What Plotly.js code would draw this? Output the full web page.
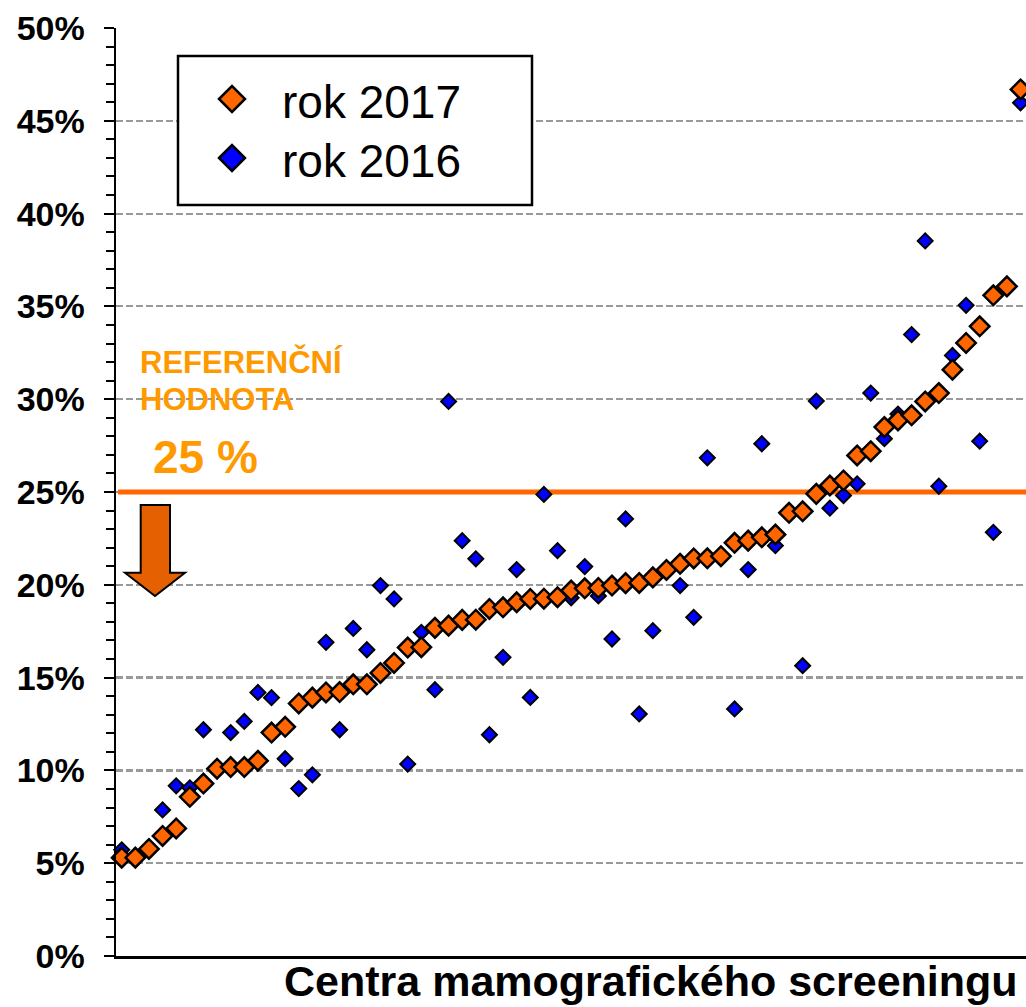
<!DOCTYPE html>
<html>
<head>
<meta charset="utf-8">
<script src="https://cdn.plot.ly/plotly-3.0.1.min.js"></script>
<style>html,body{margin:0;padding:0;background:#fff;}#chart{width:1026px;height:1007px;}</style>
</head>
<body>
<div id="chart"></div>
<script>
// Centres (sorted by 2017 value)
const centres = [1,2,3,4,5,6,7,8,9,10,11,12,13,14,15,16,17,18,19,20,21,22,23,24,25,26,27,28,29,30,31,32,33,34,35,36,37,38,39,40,41,42,43,44,45,46,47,48,49,50,51,52,53,54,55,56,57,58,59,60,61,62,63,64,65,66,67];
// rok 2017 (%)
const rok2017 = [5.30,5.30,5.77,6.47,6.87,8.58,9.29,10.09,10.18,10.18,10.52,12.04,12.35,13.61,13.92,14.20,14.22,14.64,14.64,15.25,15.79,16.62,16.64,17.68,17.80,18.11,18.12,18.70,18.79,19.06,19.24,19.25,19.33,19.69,19.81,19.83,19.96,20.09,20.10,20.40,20.80,21.13,21.42,21.43,21.54,22.26,22.38,22.56,22.71,23.88,23.96,24.90,25.35,25.62,26.97,27.20,28.50,28.86,29.13,29.88,30.33,31.59,33.03,33.93,35.60,36.08,46.69];
// rok 2016 (%)
const rok2016 = [5.72,5.30,5.75,7.87,9.17,9.06,12.19,10.00,12.04,12.64,14.20,13.92,10.63,9.02,9.76,16.90,12.19,17.65,16.50,19.96,19.24,10.34,17.44,14.35,29.88,22.38,21.40,11.92,16.09,20.82,13.93,24.87,21.84,19.30,20.98,19.40,17.08,23.55,13.04,17.53,20.70,19.96,18.25,26.84,21.50,13.31,20.82,27.60,22.11,23.80,15.64,29.90,24.13,24.81,25.44,30.33,27.87,29.20,33.48,38.53,25.31,32.36,35.06,27.74,22.83,36.00,45.97];
const referenceValue = 25;
const seriesNames = ['rok 2017', 'rok 2016'];
const yTicks = [0,5,10,15,20,25,30,35,40,45,50];
const yTickText = ['0%','5%','10%','15%','20%','25%','30%','35%','40%','45%','50%'];
const xTitle = 'Centra mamografického screeningu';
const xRange = [0.58, 67.4];

const FONT = 'Liberation Sans, Arial, sans-serif';
const L = 116, R = 1026, T = 28, B = 956;
const px = x => (x - L) / (R - L);
const py = y => (B - y) / (B - T);

const traces = [
  {x: [xRange[0] + 0.15, xRange[1]], y: [referenceValue, referenceValue], type: 'scatter', mode: 'lines',
   name: 'referenční hodnota', hoverinfo: 'skip', line: {color: '#ff6600', width: 5}},
  {x: centres, y: rok2016, type: 'scatter', mode: 'markers', name: seriesNames[1], cliponaxis: false,
   marker: {symbol: 'diamond', size: 11.5, color: '#0000ff', line: {color: '#000', width: 2}}},
  {x: centres, y: rok2017, type: 'scatter', mode: 'markers', name: seriesNames[0], cliponaxis: false,
   marker: {symbol: 'diamond', size: 15, color: '#ff6600', line: {color: '#000', width: 2.5}}}
];

function diamond(cx, cy, h) {
  return 'M' + px(cx - h) + ',' + py(cy) + ' L' + px(cx) + ',' + py(cy - h) + ' L' + px(cx + h) + ',' + py(cy) + ' L' + px(cx) + ',' + py(cy + h) + ' Z';
}
const arrowPts = [[140.7,505],[170,505],[170,572.7],[185,572.7],[155,596],[125,572.7],[140.7,572.7]];
const arrowPath = 'M' + arrowPts.map(p => px(p[0]) + ',' + py(p[1])).join(' L') + ' Z';

const layout = {
  width: 1026, height: 1007,
  margin: {l: L, r: 0, t: T, b: 1007 - B, pad: 0},
  paper_bgcolor: '#fff', plot_bgcolor: '#fff',
  showlegend: false,
  font: {family: FONT, color: '#000'},
  xaxis: {range: xRange, showline: true, linecolor: '#000', linewidth: 3, showgrid: false,
          zeroline: false, showticklabels: false, ticks: ''},
  yaxis: {range: [0, 50], tickmode: 'array', tickvals: yTicks, ticktext: yTickText, showline: true, linecolor: '#000', linewidth: 2.5,
          zeroline: false, ticks: 'outside', ticklen: 10, tickwidth: 2, tickcolor: '#000',
          tickfont: {family: FONT, size: 34, weight: 'bold', color: '#000'}, ticklabelstandoff: 12,
          showgrid: true, gridcolor: '#999999', gridwidth: 2.2, griddash: '7px,3px',
          minor: {dtick: 1, ticks: 'outside', ticklen: 8, tickwidth: 2, tickcolor: '#000', showgrid: false}},
  shapes: [
    {type: 'path', xref: 'paper', yref: 'paper', path: arrowPath, fillcolor: '#e46000',
     line: {color: '#000', width: 2}, layer: 'above'},
    {type: 'rect', xref: 'paper', yref: 'paper', x0: px(178), x1: px(532), y0: py(205), y1: py(56),
     fillcolor: '#fff', line: {color: '#000', width: 2.5}, layer: 'above'},
    {type: 'path', xref: 'paper', yref: 'paper', path: diamond(232, 99, 13), fillcolor: '#ff6600',
     line: {color: '#000', width: 2.5}, layer: 'above'},
    {type: 'path', xref: 'paper', yref: 'paper', path: diamond(232, 158, 13), fillcolor: '#0000ff',
     line: {color: '#000', width: 2.5}, layer: 'above'}
  ],
  annotations: [
    {xref: 'paper', yref: 'paper', x: px(280), y: py(102), xanchor: 'left', yanchor: 'middle', showarrow: false,
     text: seriesNames[0], font: {family: FONT, size: 46, color: '#000'}},
    {xref: 'paper', yref: 'paper', x: px(280), y: py(161), xanchor: 'left', yanchor: 'middle', showarrow: false,
     text: seriesNames[1], font: {family: FONT, size: 46, color: '#000'}},
    {xref: 'paper', yref: 'paper', x: px(138), y: py(362), xanchor: 'left', yanchor: 'middle', showarrow: false,
     text: 'REFERENČNÍ', font: {family: FONT, size: 31, weight: 'bold', color: '#ff9900'}},
    {xref: 'paper', yref: 'paper', x: px(138), y: py(399), xanchor: 'left', yanchor: 'middle', showarrow: false,
     text: 'HODNOTA', font: {family: FONT, size: 31, weight: 'bold', color: '#ff9900'}},
    {xref: 'paper', yref: 'paper', x: px(151), y: py(457), xanchor: 'left', yanchor: 'middle', showarrow: false,
     text: referenceValue + ' %', font: {family: FONT, size: 46, weight: 'bold', color: '#ff9900'}},
    {xref: 'paper', yref: 'paper', x: px(651), y: py(981), xanchor: 'center', yanchor: 'middle', showarrow: false,
     text: xTitle, font: {family: FONT, size: 43, weight: 'bold', color: '#000'}}
  ]
};

Plotly.newPlot('chart', traces, layout, {displayModeBar: false, staticPlot: true});
</script>
</body>
</html>
